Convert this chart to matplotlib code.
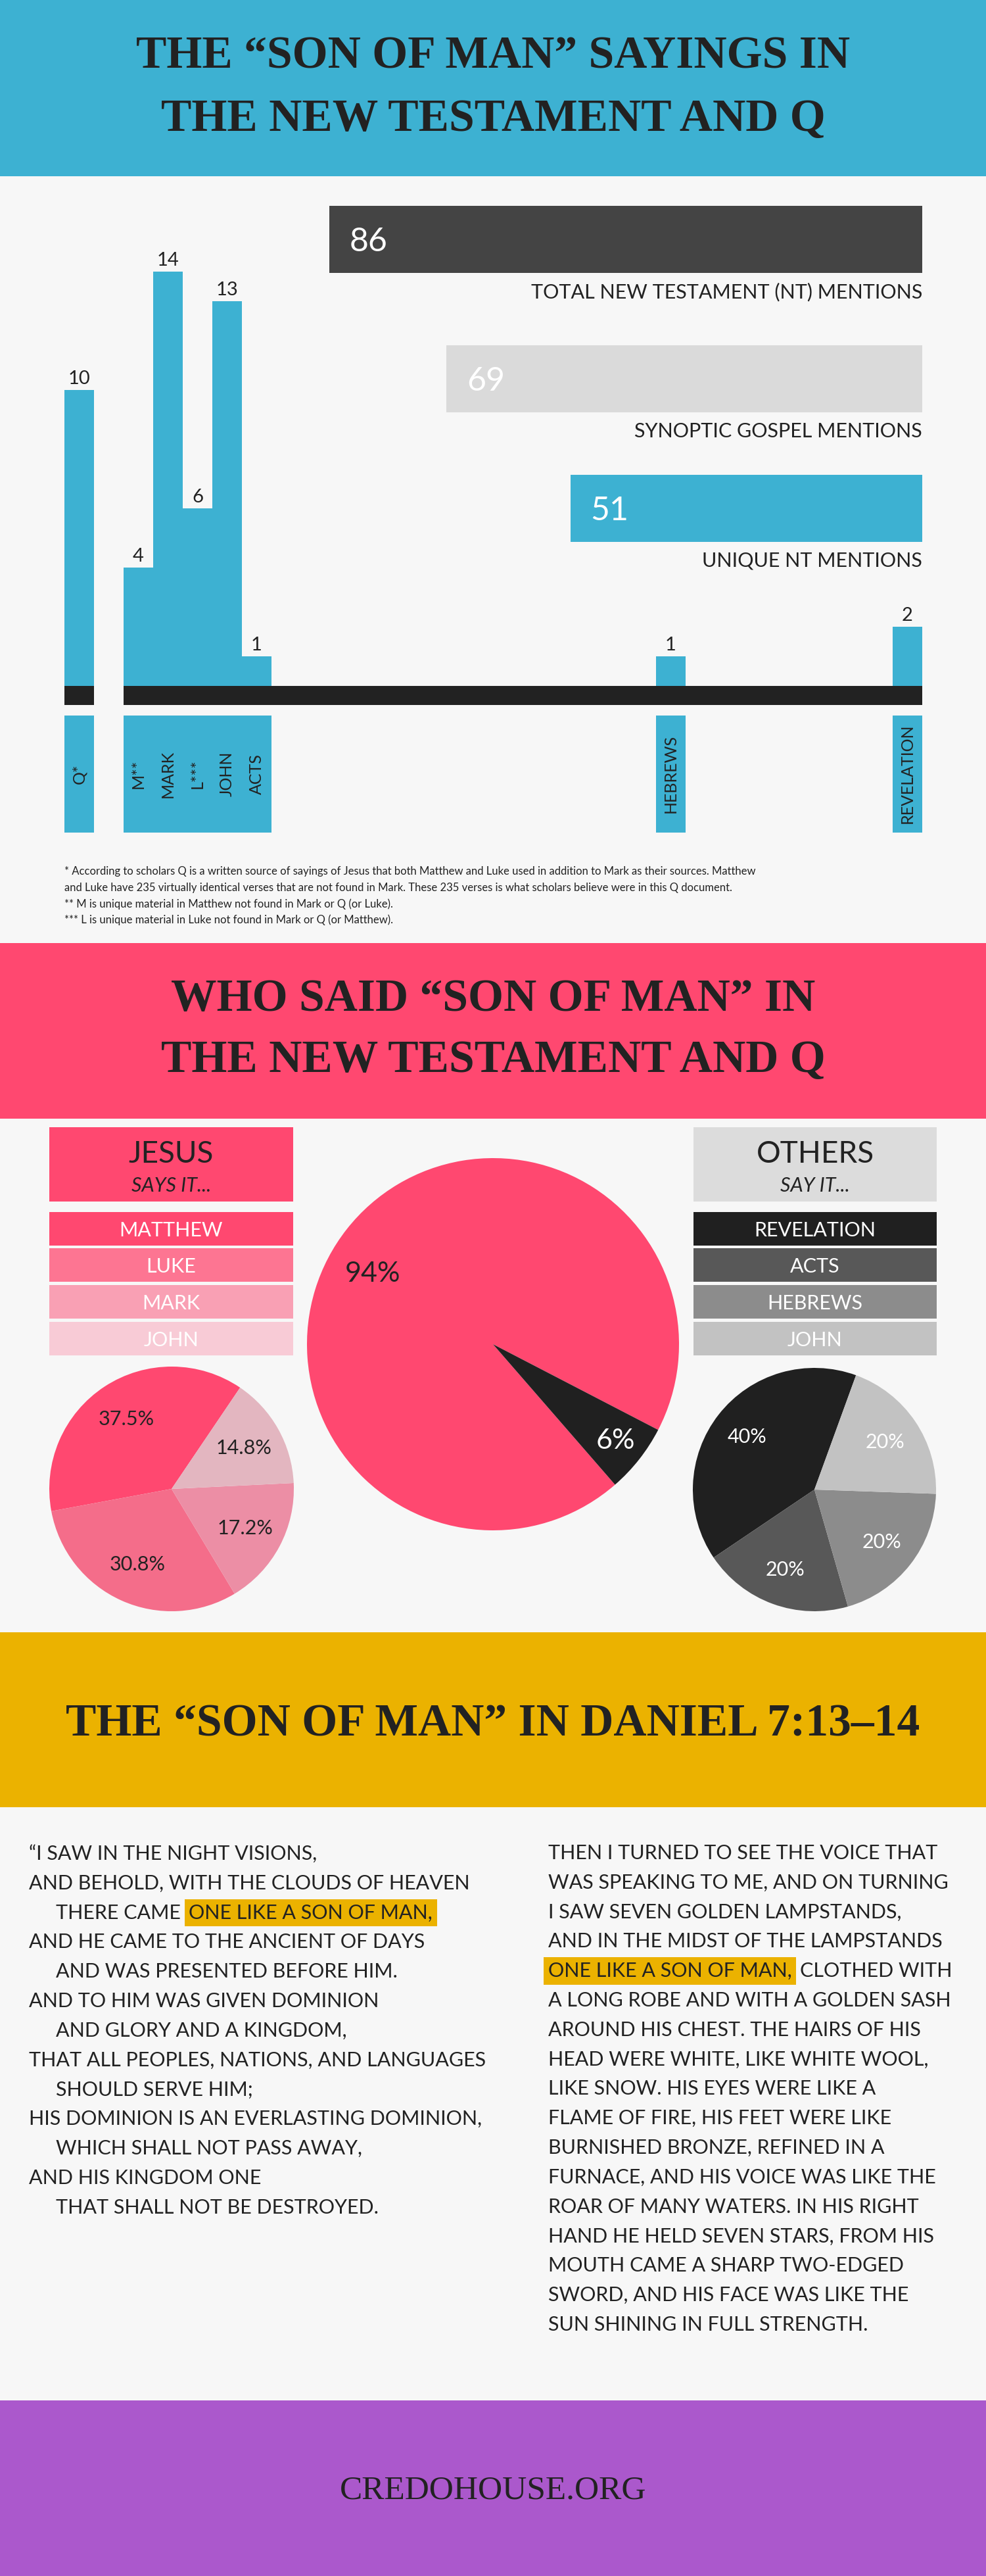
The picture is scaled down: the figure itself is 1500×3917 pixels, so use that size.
import re
import numpy as np
import matplotlib
matplotlib.use("Agg")
import matplotlib.pyplot as plt
from matplotlib.patches import Rectangle

plt.rcParams["font.family"] = ["Lato", "DejaVu Sans"]

# ---- data ----
total_labels = ["TOTAL NEW TESTAMENT (NT) MENTIONS", "SYNOPTIC GOSPEL MENTIONS", "UNIQUE NT MENTIONS"]
totals = [86, 69, 51]

books = ["Q*", "M**", "MARK", "L***", "JOHN", "ACTS", "HEBREWS", "REVELATION"]
book_counts = [10, 4, 14, 6, 13, 1, 1, 2]
book_slots = [0, 2, 3, 4, 5, 6, 20, 28]   # layout slot of each bar

speaker_share = [94, 6]                  # Jesus, others

jesus_books = ["MATTHEW", "LUKE", "MARK", "JOHN"]
jesus_share = [37.5, 30.8, 17.2, 14.8]

others_books = ["REVELATION", "ACTS", "HEBREWS", "JOHN"]
others_share = [40, 20, 20, 20]

footnotes = [
    "* According to scholars Q is a written source of sayings of Jesus that both Matthew and Luke used in addition to Mark as their sources. Matthew",
    "and Luke have 235 virtually identical verses that are not found in Mark. These 235 verses is what scholars believe were in this Q document.",
    "** M is unique material in Matthew not found in Mark or Q (or Luke).",
    "*** L is unique material in Luke not found in Mark or Q (or Matthew).",
]

# leading space = indented line, [..] = highlighted
daniel_lines = [
    "\u201cI SAW IN THE NIGHT VISIONS,",
    "AND BEHOLD, WITH THE CLOUDS OF HEAVEN",
    " THERE CAME[ONE LIKE A SON OF MAN,]",
    "AND HE CAME TO THE ANCIENT OF DAYS",
    " AND WAS PRESENTED BEFORE HIM.",
    "AND TO HIM WAS GIVEN DOMINION",
    " AND GLORY AND A KINGDOM,",
    "THAT ALL PEOPLES, NATIONS, AND LANGUAGES",
    " SHOULD SERVE HIM;",
    "HIS DOMINION IS AN EVERLASTING DOMINION,",
    " WHICH SHALL NOT PASS AWAY,",
    "AND HIS KINGDOM ONE",
    " THAT SHALL NOT BE DESTROYED.",
]
revelation_lines = [
    "THEN I TURNED TO SEE THE VOICE THAT",
    "WAS SPEAKING TO ME, AND ON TURNING",
    "I SAW SEVEN GOLDEN LAMPSTANDS,",
    "AND IN THE MIDST OF THE LAMPSTANDS",
    "[ONE LIKE A SON OF MAN,]CLOTHED WITH",
    "A LONG ROBE AND WITH A GOLDEN SASH",
    "AROUND HIS CHEST. THE HAIRS OF HIS",
    "HEAD WERE WHITE, LIKE WHITE WOOL,",
    "LIKE SNOW. HIS EYES WERE LIKE A",
    "FLAME OF FIRE, HIS FEET WERE LIKE",
    "BURNISHED BRONZE, REFINED IN A",
    "FURNACE, AND HIS VOICE WAS LIKE THE",
    "ROAR OF MANY WATERS. IN HIS RIGHT",
    "HAND HE HELD SEVEN STARS, FROM HIS",
    "MOUTH CAME A SHARP TWO-EDGED",
    "SWORD, AND HIS FACE WAS LIKE THE",
    "SUN SHINING IN FULL STRENGTH.",
]

# ---- colours ----
BG = "#f7f7f7"
BLUE = "#3db1d2"
PINK = "#ff4870"
YELLOW = "#ebb200"
PURPLE = "#ab58cc"
DARK = "#222222"
jesus_legend_colors = ["#ff4870", "#fd7592", "#f9a0b4", "#f8cbd6"]
jesus_pie_colors = ["#ff4870", "#f46d8a", "#ec8ea5", "#e3b6c0"]
others_colors = ["#202020", "#585858", "#8c8c8c", "#c2c2c2"]

W, H = 1500, 3917
fig = plt.figure(figsize=(W / 100, H / 100), dpi=100, facecolor=BG)


def px_axes(x0, y0, x1, y1):
    ax = fig.add_axes([x0 / W, 1 - y1 / H, (x1 - x0) / W, (y1 - y0) / H])
    ax.axis("off")
    return ax


bg = px_axes(0, 0, W, H)
bg.set_xlim(0, W)
bg.set_ylim(H, 0)

# section bands
for y0, y1, c in [(0, 268, BLUE), (1434, 1701, PINK), (2482, 2748, YELLOW), (3650, H, PURPLE)]:
    bg.add_patch(Rectangle((0, y0), W, y1 - y0, color=c, lw=0))

title_kw = dict(family="Liberation Serif", weight="bold", fontsize=50, color=DARK,
                ha="center", va="baseline")
bg.text(W / 2, 104, "THE \u201cSON OF MAN\u201d SAYINGS IN", **title_kw)
bg.text(W / 2, 199, "THE NEW TESTAMENT AND Q", **title_kw)
bg.text(W / 2, 1537, "WHO SAID \u201cSON OF MAN\u201d IN", **title_kw)
bg.text(W / 2, 1630, "THE NEW TESTAMENT AND Q", **title_kw)
bg.text(W / 2, 2639, "THE \u201cSON OF MAN\u201d IN DANIEL 7:13\u201314", **title_kw)
bg.text(W / 2, 3800, "CREDOHOUSE.ORG", family="Liberation Serif", fontsize=37,
        color=DARK, ha="center", va="baseline")

# ---- totals (horizontal bars, growing from the right) ----
hb = px_axes(501, 300, 1403, 880)
bar_ys = [364, 576, 773]
hb.barh(bar_ys, totals, height=102, color=["#444444", "#dadada", BLUE], lw=0)
hb.set_xlim(max(totals), 0)
hb.set_ylim(880, 300)
for v, y, lab in zip(totals, bar_ys, total_labels):
    hb.annotate(str(v), xy=(v, y + 4), xytext=(22, 0), textcoords="offset points",
                ha="left", va="center", fontsize=36, color="white")
    hb.text(0, y + 80, lab, ha="right", va="center", fontsize=22, color=DARK)

# ---- per-book bars ----
vb = px_axes(98, 368, 1403, 1268)
vb.set_xlim(-0.5, 28.5)
vb.set_ylim(-5, 15)
bars = vb.bar(book_slots, book_counts, width=1.0, color=BLUE, lw=0)
vb.bar_label(bars, padding=3, fontsize=21, color=DARK)
base_h = 29 / 45
vb.broken_barh([(book_slots[0] - 0.5, 1), (book_slots[1] - 0.5, book_slots[-1] - book_slots[1] + 1)],
               (-base_h, base_h), color=DARK, lw=0)
vb.bar(book_slots, 3.95, bottom=-4.95, width=1.0, color=BLUE, lw=0)
for s, b in zip(book_slots, books):
    vb.text(s, -2.97, b, rotation=90, ha="center", va="center", fontsize=18, color=DARK)

for i, line in enumerate(footnotes):
    bg.text(98, 1325 + i * 24.7, line, ha="left", va="center", fontsize=12, color=DARK)

# ---- who says it: legend boxes ----
row_tops = [1843, 1898, 1954, 2010]
for x0, x1, head, sub, names, cols, hc in [
    (75, 446, "JESUS", "SAYS IT...", jesus_books, jesus_legend_colors, PINK),
    (1055, 1425, "OTHERS", "SAY IT...", others_books, others_colors, "#dcdcdc"),
]:
    bg.add_patch(Rectangle((x0, 1714), x1 - x0, 113, color=hc, lw=0))
    cx = (x0 + x1) / 2
    bg.text(cx, 1755, head, ha="center", va="center", fontsize=33, color=DARK)
    bg.text(cx, 1803, sub, ha="center", va="center", fontsize=22, style="italic", color=DARK)
    for top, name, c in zip(row_tops, names, cols):
        bg.add_patch(Rectangle((x0, top), x1 - x0, 51, color=c, lw=0))
        bg.text(cx, top + 28, name, ha="center", va="center", fontsize=22, color="white")


def pie_at(cx, cy, r, values, colors, start, labels, text_colors, dist, size, shift=None):
    ax = px_axes(cx - r, cy - r, cx + r, cy + r)
    wedges, _ = ax.pie(values, colors=colors, startangle=start, counterclock=True,
                       radius=1, wedgeprops=dict(linewidth=0))
    ax.set_xlim(-1, 1)
    ax.set_ylim(-1, 1)
    for i, (w, lab) in enumerate(zip(wedges, labels)):
        mid = (w.theta1 + w.theta2) / 2 + (shift[i] if shift else 0)
        d = dist[i] if np.ndim(dist) else dist
        ax.text(d * np.cos(np.radians(mid)), d * np.sin(np.radians(mid)), lab,
                ha="center", va="center", fontsize=size, color=text_colors[i])
    return ax


pie_at(750, 2044, 283, speaker_share, [PINK, "#202020"], -27.4,
       [f"{v}%" for v in speaker_share], [DARK, "white"], [0.75, 0.84], 31, shift=[8, 0])
pie_at(261, 2264, 186, jesus_share, jesus_pie_colors, 55.9,
       [f"{v}%" for v in jesus_share], [DARK] * 4, 0.68, 22)
pie_at(1239, 2265, 185, others_share, others_colors, 70,
       [f"{v}%" for v in others_share], ["white"] * 4, 0.7, 22)

# ---- Daniel 7 / Revelation 1 text ----
BODY = 22
LINE = 44.8
body_kw = dict(va="center", fontsize=BODY, color=DARK)


def draw_line(x, y, s):
    parts = re.split(r"[\[\]]", s)
    hl_kw = dict(boxstyle="square,pad=0.22", fc=YELLOW, ec="none")
    prev = bg.text(x, y, parts[0], ha="left", **body_kw) if parts[0] else None
    if len(parts) > 1:
        if prev is None:
            prev = bg.text(x, y, parts[1], ha="left", bbox=hl_kw, **body_kw)
        else:
            prev = bg.annotate(parts[1], xy=(1, 0.5), xycoords=prev, xytext=(9, 0),
                               textcoords="offset points", ha="left", bbox=hl_kw, **body_kw)
        if parts[2]:
            bg.annotate(parts[2], xy=(1, 0.5), xycoords=prev, xytext=(9, 0),
                        textcoords="offset points", ha="left", **body_kw)


for i, s in enumerate(daniel_lines):
    x = 85 if s.startswith(" ") else 44
    draw_line(x, 2819 + i * LINE, s.strip())
for i, s in enumerate(revelation_lines):
    draw_line(834, 2818 + i * LINE, s.strip())

fig.savefig("out.png", dpi=100, facecolor=BG)
